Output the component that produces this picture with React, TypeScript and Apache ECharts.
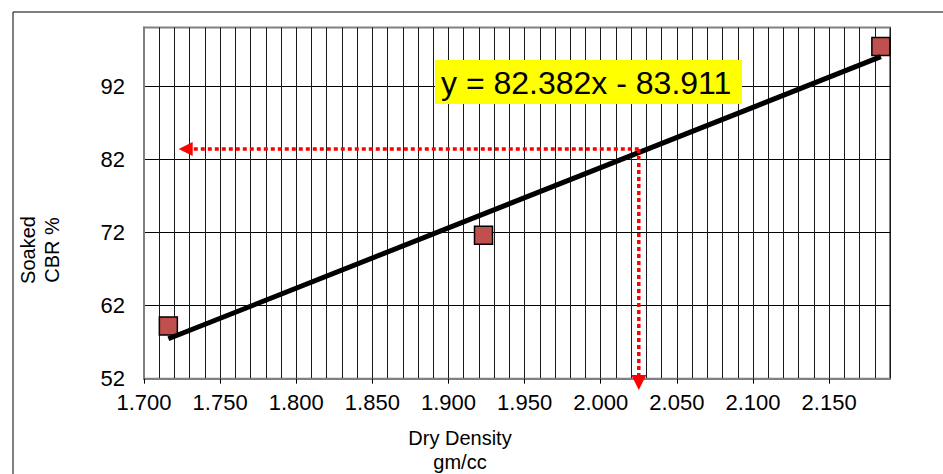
import React, { useEffect, useRef } from 'react';
import * as echarts from 'echarts';

// Measured points (Dry Density gm/cc vs Soaked CBR %)
const dryDensity = [1.716, 1.923, 2.184];
const soakedCBR = [59.2, 71.6, 97.4];

// Linear trendline shown in the chart
const slope = 82.382;
const intercept = -83.911;
const equationLabel = 'y = 82.382x - 83.911';

// Read-off construction (dotted red arrows)
const readDensity = [2.025];
const readCBR = [83.4];
const arrowTipDensity = [1.7228];
const arrowTipCBR = [50.45];

// Axes
const xMin = 1.7;
const xMax = 2.19;
const xMajorTicks = [1.7, 1.75, 1.8, 1.85, 1.9, 1.95, 2.0, 2.05, 2.1, 2.15];
const yMin = 52;
const yMax = 100;
const yTicks = [52, 62, 72, 82, 92];

const xTitle = 'Dry Density\ngm/cc';
const yTitle = 'Soaked\nCBR %';

const FONT = '"Liberation Sans", Arial, sans-serif';

export default function App() {
  const ref = useRef<HTMLDivElement>(null);

  useEffect(() => {
    if (!ref.current) return;
    const chart = echarts.init(ref.current, undefined, { renderer: 'svg' });

    const scatterData = dryDensity.map((x, i) => [x, soakedCBR[i]]);
    const trendX = [dryDensity[0], dryDensity[dryDensity.length - 1]];
    const trendData = trendX.map((x) => [x, slope * x + intercept]);
    const arrowData = readDensity.map((x, i) => [x, readCBR[i], arrowTipDensity[i], arrowTipCBR[i]]);

    chart.setOption({
      animation: false,
      backgroundColor: '#ffffff',
      textStyle: { fontFamily: FONT },
      grid: {
        left: 144,
        right: 53,
        top: 27.5,
        bottom: 95.3,
        show: true,
        borderColor: '#808080',
        borderWidth: 2,
        backgroundColor: 'transparent',
        containLabel: false,
        outerBoundsMode: 'none',
      },
      xAxis: [
        {
          type: 'value',
          position: 'bottom',
          min: xMin,
          max: xMax,
          interval: 0.01,
          axisLine: { show: true, lineStyle: { color: '#808080', width: 2 } },
          axisTick: { show: false },
          axisLabel: { show: false },
          splitLine: { show: true, lineStyle: { color: '#1a1a1a', width: 1 } },
        },
        {
          type: 'value',
          position: 'bottom',
          min: xMin,
          max: xMax,
          axisLine: { show: false },
          axisTick: {
            show: true,
            customValues: xMajorTicks,
            length: 5,
            lineStyle: { color: '#000', width: 1 },
          },
          axisLabel: {
            show: true,
            customValues: xMajorTicks,
            formatter: (v: number) => v.toFixed(3),
            color: '#000',
            fontSize: 22,
            fontFamily: FONT,
            margin: 13,
          },
          splitLine: { show: false },
        },
      ],
      yAxis: {
        type: 'value',
        min: yMin,
        max: yMax,
        axisLine: { show: true, lineStyle: { color: '#808080', width: 2 } },
        axisTick: { show: false, customValues: yTicks },
        axisLabel: {
          show: true,
          customValues: yTicks,
          color: '#000',
          fontSize: 22,
          fontFamily: FONT,
          margin: 19,
        },
        splitLine: { show: true, lineStyle: { color: '#000', width: 1 } },
      },
      series: [
        {
          type: 'scatter',
          xAxisIndex: 0,
          data: scatterData,
          symbol: 'rect',
          symbolSize: 18,
          itemStyle: { color: '#C0504D', borderColor: '#000', borderWidth: 1.5, opacity: 1 },
          z: 3,
          silent: true,
        },
        {
          type: 'line',
          xAxisIndex: 0,
          data: trendData,
          symbol: 'none',
          lineStyle: { color: '#000', width: 5 },
          z: 4,
          silent: true,
        },
        {
          type: 'custom',
          xAxisIndex: 0,
          clip: false,
          silent: true,
          z: 5,
          data: arrowData,
          renderItem: (_params: any, api: any) => {
            const corner = api.coord([api.value(0), api.value(1)]);
            const left = api.coord([api.value(2), api.value(1)]);
            const bottom = api.coord([api.value(0), api.value(3)]);
            const red = '#FF0000';
            const dash = { stroke: red, lineWidth: 3.5, lineDash: [4, 3], fill: null };
            return {
              type: 'group',
              children: [
                {
                  type: 'line',
                  shape: { x1: corner[0], y1: corner[1], x2: left[0] + 13, y2: corner[1] },
                  style: dash,
                },
                {
                  type: 'line',
                  shape: { x1: corner[0], y1: corner[1], x2: corner[0], y2: bottom[1] - 14 },
                  style: dash,
                },
                {
                  type: 'polygon',
                  shape: {
                    points: [
                      [left[0], left[1]],
                      [left[0] + 14, left[1] - 7],
                      [left[0] + 14, left[1] + 7],
                    ],
                  },
                  style: { fill: red },
                },
                {
                  type: 'polygon',
                  shape: {
                    points: [
                      [bottom[0], bottom[1]],
                      [bottom[0] - 7.5, bottom[1] - 15],
                      [bottom[0] + 7.5, bottom[1] - 15],
                    ],
                  },
                  style: { fill: red },
                },
              ],
            };
          },
        },
      ],
      graphic: [
        {
          type: 'rect',
          left: 10.5,
          top: 9.5,
          shape: { x: 0, y: 0, width: 1000, height: 1000 },
          style: { fill: 'none', stroke: '#000', lineWidth: 1 },
          silent: true,
          z: -10,
        },
        {
          type: 'rect',
          shape: { x: 435, y: 60, width: 307, height: 44 },
          style: { fill: '#FFFF00' },
          z: 10,
        },
        {
          type: 'text',
          x: 441,
          y: 83,
          style: {
            text: equationLabel,
            fill: '#000',
            font: `32px ${FONT}`,
            align: 'left',
            verticalAlign: 'middle',
          },
          z: 11,
        },
        {
          type: 'text',
          x: 460,
          y: 450,
          style: {
            text: xTitle,
            fill: '#000',
            font: `20px ${FONT}`,
            align: 'center',
            verticalAlign: 'middle',
            lineHeight: 24,
          },
          z: 11,
        },
        {
          type: 'text',
          x: 40,
          y: 250,
          rotation: Math.PI / 2,
          style: {
            text: yTitle,
            fill: '#000',
            font: `20px ${FONT}`,
            align: 'center',
            verticalAlign: 'middle',
            lineHeight: 24,
          },
          z: 11,
        },
      ],
    });

    return () => chart.dispose();
  }, []);

  return (
    <div
      ref={ref}
      style={{ position: 'fixed', left: 0, top: 0, width: 943, height: 474 }}
    />
  );
}
